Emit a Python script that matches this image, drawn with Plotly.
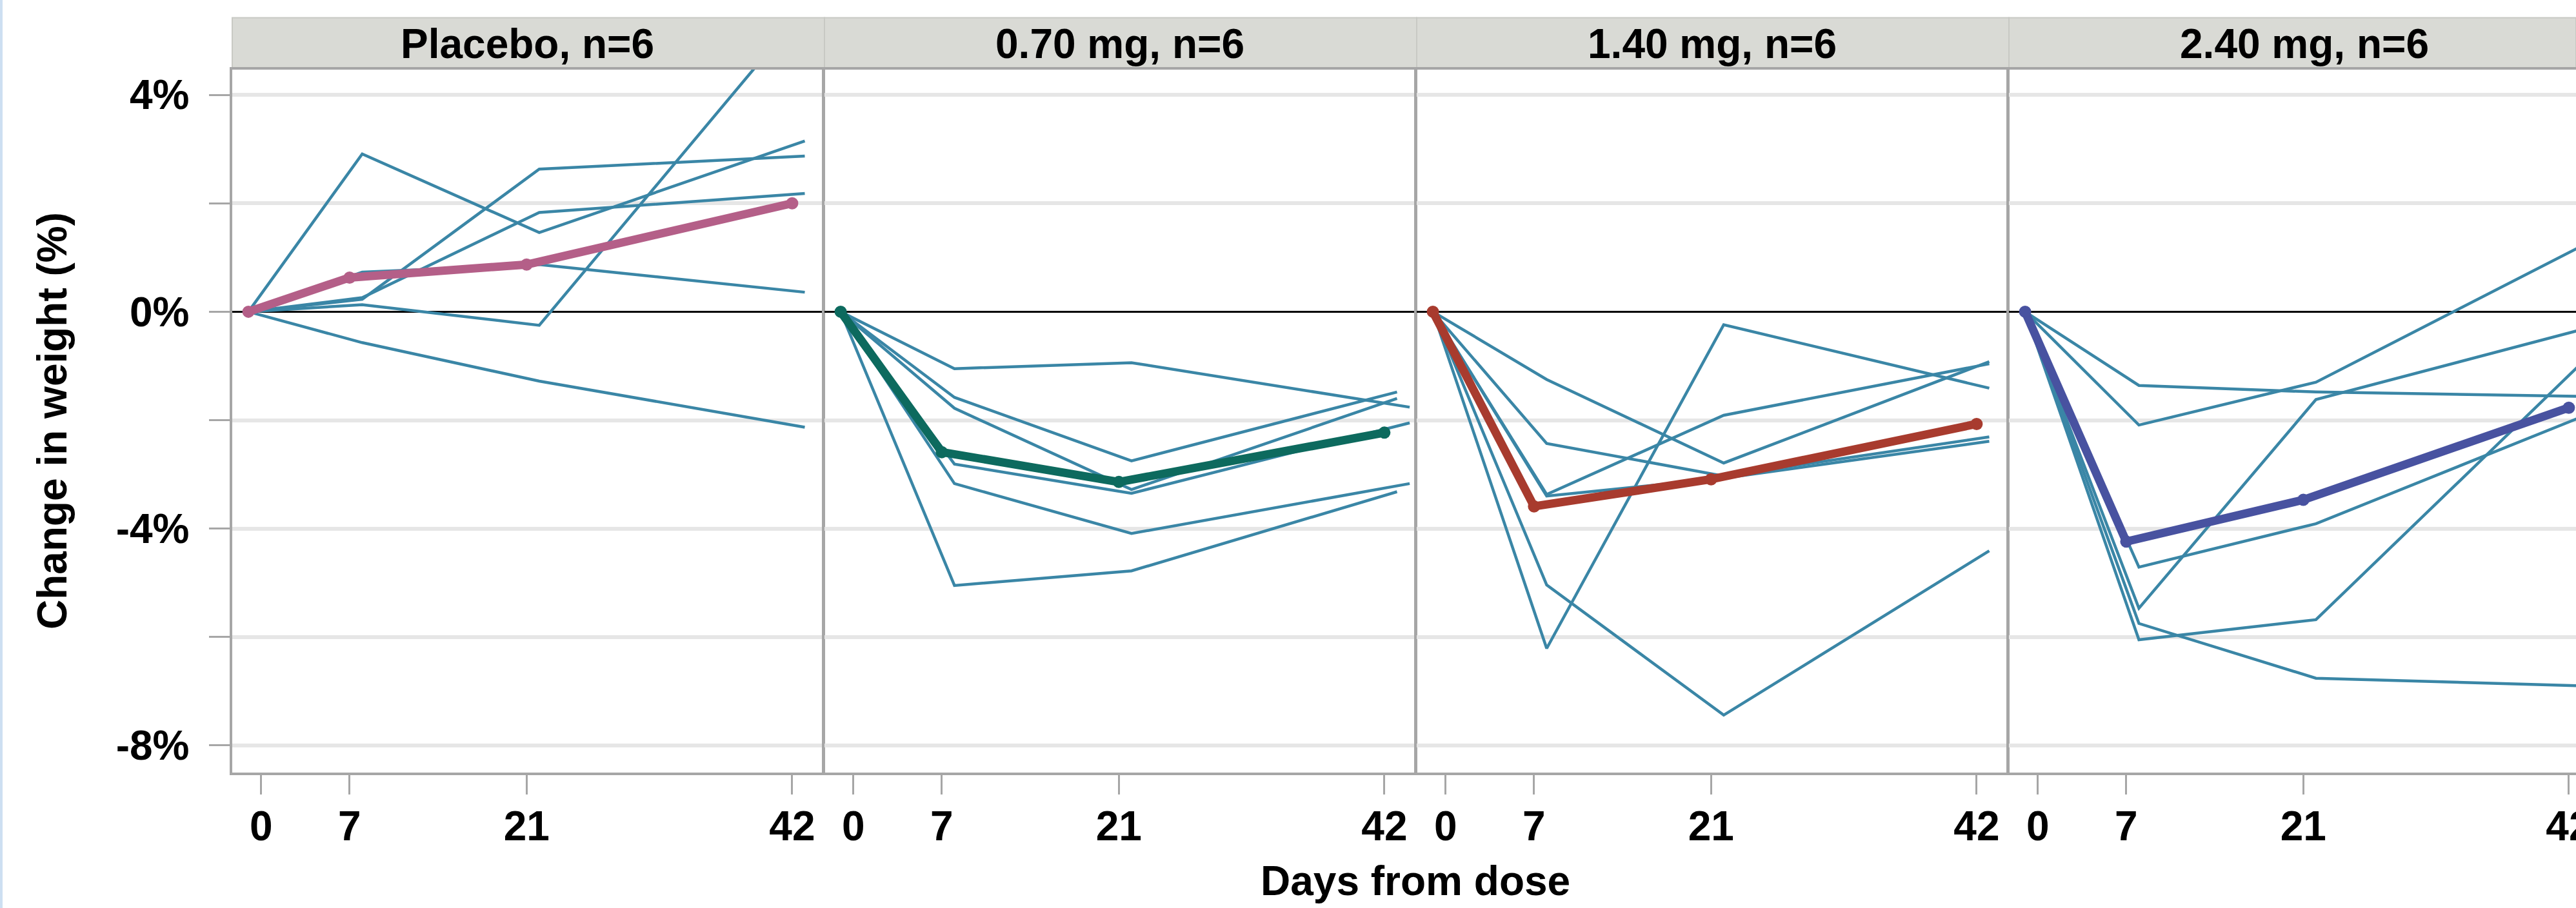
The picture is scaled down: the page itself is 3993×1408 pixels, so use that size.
import plotly.graph_objects as go

# ---------------- data ----------------
panel_titles = ["Placebo, n=6", "0.70 mg, n=6", "1.40 mg, n=6", "2.40 mg, n=6"]
mean_days = [-1, 7, 21, 42]

placebo_mean = [0, 0.63, 0.87, 2.00]
mg070_mean = [0, -2.59, -3.14, -2.23]
mg140_mean = [0, -3.59, -3.09, -2.07]
mg240_mean = [0, -4.24, -3.47, -1.77]

placebo_days = [[-1, 8, 22, 43]] * 6
placebo_indiv = [
    [0, 2.91, 1.46, 3.15],
    [0, 0.23, 2.63, 2.87],
    [0, 0.26, 1.83, 2.18],
    [0, 0.73, 0.87, 0.36],
    [0, 0.13, -0.25, 5.60],
    [0, -0.57, -1.28, -2.13],
]

mg070_days = [[-1, 8, 22, 44], [-1, 8, 22, 43], [-1, 8, 22, 43],
              [-1, 8, 22, 44], [-1, 8, 22, 44], [-1, 8, 22, 43]]
mg070_indiv = [
    [0, -1.05, -0.94, -1.76],
    [0, -1.58, -2.75, -1.48],
    [0, -1.78, -3.28, -1.60],
    [0, -2.81, -3.35, -2.05],
    [0, -3.17, -4.09, -3.17],
    [0, -5.05, -4.78, -3.32],
]

mg140_days = [[-1, 8, 22, 43]] * 6
mg140_indiv = [
    [0, -1.25, -2.79, -0.92],
    [0, -2.43, -3.03, -2.31],
    [0, -3.37, -1.91, -0.96],
    [0, -3.40, -3.07, -2.39],
    [0, -6.21, -0.24, -1.41],
    [0, -5.04, -7.44, -4.41],
]

mg240_days = [[-1, 8, 22, 43]] * 6
mg240_indiv = [
    [0, -1.36, -1.48, -1.56],
    [0, -2.09, -1.30, 1.21],
    [0, -5.47, -1.62, -0.33],
    [0, -4.71, -3.91, -1.94],
    [0, -6.05, -5.68, -0.95],
    [0, -5.75, -6.76, -6.90],
]

x_tickvals = [0, 7, 21, 42]
y_tickvals = [-8, -6, -4, -2, 0, 2, 4]
y_ticktext = ["-8%", "", "-4%", "", "0%", "", "4%"]

means = [placebo_mean, mg070_mean, mg140_mean, mg240_mean]
indiv = [placebo_indiv, mg070_indiv, mg140_indiv, mg240_indiv]
indiv_days = [placebo_days, mg070_days, mg140_days, mg240_days]
mean_colors = ["#b45f88", "#0d6a5e", "#a83b2e", "#4852a0"]
indiv_color = "#3a86a6"

# ---------------- layout geometry (pixels) ----------------
W, H = 3993, 1408
ML, MT, MB = 360, 108, 210
PW = W - ML
PH = H - MT - MB
px_per_day = 19.6
left_px = [360, 1278, 2196, 3114]
panel_w = 915
x_start = -2.28

font_fam = "Liberation Sans, Arial, sans-serif"
grey = "#a6a6a6"

fig = go.Figure()

for i in range(4):
    xa = "x" if i == 0 else f"x{i+1}"
    ya = "y" if i == 0 else f"y{i+1}"
    for d, v in zip(indiv_days[i], indiv[i]):
        fig.add_trace(go.Scatter(x=d, y=v, mode="lines", xaxis=xa, yaxis=ya,
                                 line=dict(color=indiv_color, width=4.5),
                                 showlegend=False, hoverinfo="skip"))
    fig.add_trace(go.Scatter(x=mean_days, y=means[i], mode="lines+markers",
                             xaxis=xa, yaxis=ya,
                             line=dict(color=mean_colors[i], width=13),
                             marker=dict(color=mean_colors[i], size=19),
                             showlegend=False))

shapes = []
annotations = []
layout = {}
for i in range(4):
    l = left_px[i]
    r = min(l + panel_w, W)
    d0 = (l - ML) / PW
    d1 = min((r - ML) / PW, 1.0)
    x_end = x_start + (r - l) / px_per_day
    last = (i == 3)
    xk = "xaxis" if i == 0 else f"xaxis{i+1}"
    yk = "yaxis" if i == 0 else f"yaxis{i+1}"
    layout[xk] = dict(
        domain=[d0, d1], range=[x_start, x_end], anchor="y" if i == 0 else f"y{i+1}",
        tickvals=x_tickvals, ticks="outside", ticklen=30, tickwidth=2.5, tickcolor=grey,
        showgrid=False, zeroline=False, showline=True, linecolor=grey, linewidth=3.5,
        mirror=True, ticklabeloverflow="allow", automargin=False,
        tickfont=dict(family=font_fam, size=64, color="black", weight="bold"),
        ticklabelstandoff=-6,
    )
    layout[yk] = dict(
        domain=[0, 1], range=[-8.5, 4.465], anchor="x" if i == 0 else f"x{i+1}",
        tickvals=y_tickvals, ticktext=y_ticktext, automargin=False,
        showticklabels=(i == 0), ticks="outside" if i == 0 else "",
        ticklen=32, tickwidth=2.5, tickcolor=grey,
        showgrid=True, gridcolor="#e6e6e6", gridwidth=6,
        zeroline=True, zerolinecolor="black", zerolinewidth=2.5,
        showline=True, linecolor=grey, linewidth=3.5, mirror=(not last),
        tickfont=dict(family=font_fam, size=64, color="black", weight="bold"),
        ticklabelstandoff=18,
    )
    # facet strip
    shapes.append(dict(type="rect", xref="paper", yref="paper",
                       x0=d0, x1=(min(l + panel_w + 3, W) - ML) / PW if not last else 1.0,
                       y0=1 + 1.5 / PH, y1=1 + (MT - 27.5) / PH,
                       fillcolor="#d9dad5", line=dict(color="#c8c9c4", width=2), layer="below"))
    annotations.append(dict(text=panel_titles[i], xref="paper", yref="paper",
                            x=(l + panel_w / 2 - ML) / PW, y=1 + (MT - 68) / PH,
                            xanchor="center", yanchor="middle", showarrow=False,
                            font=dict(family=font_fam, size=64, color="black", weight="bold")))

# left edge light blue band
shapes.append(dict(type="rect", xref="paper", yref="paper",
                   x0=-ML / PW, x1=(4 - ML) / PW, y0=-MB / PH, y1=1 + MT / PH,
                   fillcolor="#cddff2", line=dict(width=0), layer="below"))

annotations.append(dict(text="Change in weight (%)", xref="paper", yref="paper",
                        x=(81 - ML) / PW, y=0.5, textangle=-90,
                        xanchor="center", yanchor="middle", showarrow=False,
                        font=dict(family=font_fam, size=64, color="black", weight="bold")))
annotations.append(dict(text="Days from dose", xref="paper", yref="paper",
                        x=(2194 - ML) / PW, y=-(1366 - (MT + PH)) / PH,
                        xanchor="center", yanchor="middle", showarrow=False,
                        font=dict(family=font_fam, size=64, color="black", weight="bold")))

fig.update_layout(
    width=W, height=H,
    margin=dict(l=ML, r=0, t=MT, b=MB, pad=0, autoexpand=False),
    paper_bgcolor="white", plot_bgcolor="white",
    shapes=shapes, annotations=annotations,
    **layout,
)

fig.write_html("out.html")
